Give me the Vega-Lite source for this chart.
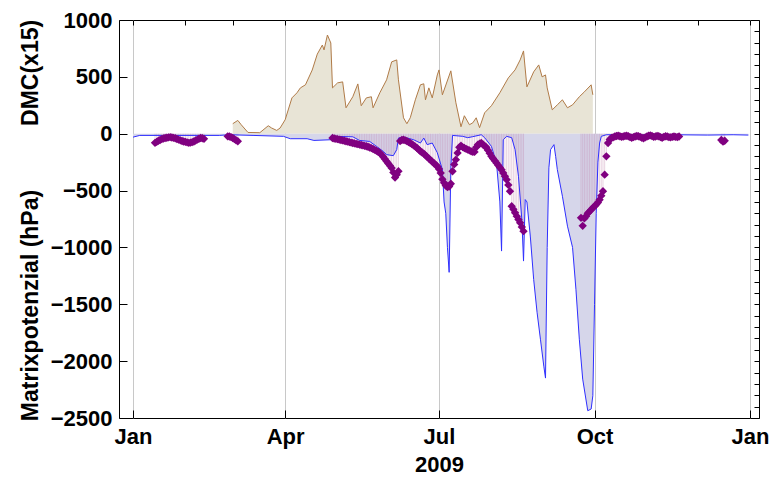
{
  "$schema": "https://vega.github.io/schema/vega-lite/v6.json",
  "width": 640,
  "height": 398,
  "autosize": "none",
  "padding": {"left": 119, "top": 20, "right": 12, "bottom": 66},
  "background": "white",
  "config": {
    "font": "Liberation Sans",
    "view": {"stroke": "#000000", "strokeWidth": 1},
    "axis": {
      "labelFont": "Liberation Sans", "labelFontWeight": "bold", "labelFontSize": 22, "labelColor": "#000000",
      "titleFont": "Liberation Sans", "titleFontWeight": "bold", "titleFontSize": 22, "titleColor": "#000000",
      "tickColor": "#000000", "tickWidth": 1, "domain": false, "ticks": true
    }
  },
  "datasets": {
    "dmc": [
      {"d":"2009-03-01","v":88},{"d":"2009-03-04","v":117},{"d":"2009-03-06","v":79},{"d":"2009-03-10","v":11},
      {"d":"2009-03-17","v":9},{"d":"2009-03-22","v":70},{"d":"2009-03-24","v":50},{"d":"2009-03-27","v":29},
      {"d":"2009-03-29","v":50},{"d":"2009-04-01","v":123},{"d":"2009-04-05","v":315},{"d":"2009-04-08","v":360},
      {"d":"2009-04-10","v":403},{"d":"2009-04-13","v":430},{"d":"2009-04-17","v":560},{"d":"2009-04-20","v":700},
      {"d":"2009-04-23","v":780},{"d":"2009-04-24","v":737},{"d":"2009-04-26","v":868},{"d":"2009-04-28","v":798},
      {"d":"2009-04-29","v":403},{"d":"2009-05-02","v":447},{"d":"2009-05-05","v":456},{"d":"2009-05-07","v":228},
      {"d":"2009-05-11","v":325},{"d":"2009-05-14","v":438},{"d":"2009-05-16","v":246},{"d":"2009-05-19","v":315},
      {"d":"2009-05-22","v":325},{"d":"2009-05-23","v":228},{"d":"2009-05-27","v":360},{"d":"2009-05-31","v":474},
      {"d":"2009-06-03","v":632},{"d":"2009-06-06","v":649},{"d":"2009-06-07","v":474},{"d":"2009-06-10","v":140},
      {"d":"2009-06-12","v":88},{"d":"2009-06-14","v":140},{"d":"2009-06-17","v":298},{"d":"2009-06-20","v":430},
      {"d":"2009-06-22","v":439},{"d":"2009-06-23","v":298},{"d":"2009-06-25","v":403},{"d":"2009-06-27","v":315},
      {"d":"2009-06-30","v":517},{"d":"2009-07-01","v":561},{"d":"2009-07-03","v":342},{"d":"2009-07-08","v":553},
      {"d":"2009-07-11","v":272},{"d":"2009-07-14","v":61},{"d":"2009-07-16","v":158},{"d":"2009-07-19","v":79},
      {"d":"2009-07-21","v":96},{"d":"2009-07-23","v":140},{"d":"2009-07-25","v":53},{"d":"2009-07-28","v":184},
      {"d":"2009-08-01","v":246},{"d":"2009-08-06","v":360},{"d":"2009-08-11","v":491},{"d":"2009-08-15","v":561},
      {"d":"2009-08-18","v":649},{"d":"2009-08-20","v":728},{"d":"2009-08-22","v":412},{"d":"2009-08-26","v":544},
      {"d":"2009-08-29","v":605},{"d":"2009-08-31","v":500},{"d":"2009-09-02","v":517},{"d":"2009-09-03","v":403},
      {"d":"2009-09-06","v":210},{"d":"2009-09-09","v":254},{"d":"2009-09-12","v":298},{"d":"2009-09-15","v":228},
      {"d":"2009-09-18","v":254},{"d":"2009-09-22","v":325},{"d":"2009-09-25","v":368},{"d":"2009-09-29","v":430},
      {"d":"2009-09-30","v":342}
    ],
    "blue": [
      {"d":"2009-01-01","v":-30},{"d":"2009-01-05","v":-15},{"d":"2009-02-21","v":-15},{"d":"2009-02-27","v":-9},
      {"d":"2009-03-13","v":-15},{"d":"2009-03-31","v":-23},{"d":"2009-04-04","v":-44},{"d":"2009-04-14","v":-44},
      {"d":"2009-04-18","v":-59},{"d":"2009-04-28","v":-53},{"d":"2009-04-29","v":-23},{"d":"2009-05-11","v":-27},
      {"d":"2009-05-15","v":-59},{"d":"2009-05-21","v":-68},{"d":"2009-05-25","v":-111},{"d":"2009-05-29","v":-155},
      {"d":"2009-05-31","v":-184},{"d":"2009-06-04","v":-193},{"d":"2009-06-06","v":-140},{"d":"2009-06-07","v":-38},
      {"d":"2009-06-10","v":-29},{"d":"2009-06-16","v":-53},{"d":"2009-06-20","v":-82},{"d":"2009-06-22","v":-38},
      {"d":"2009-06-24","v":-96},{"d":"2009-06-27","v":-82},{"d":"2009-06-30","v":-167},{"d":"2009-07-03","v":-316},
      {"d":"2009-07-04","v":-600},{"d":"2009-07-05","v":-700},{"d":"2009-07-06","v":-1000},{"d":"2009-07-07","v":-1219},
      {"d":"2009-07-08","v":-300},{"d":"2009-07-09","v":-15},{"d":"2009-07-15","v":-23},{"d":"2009-07-18","v":-35},
      {"d":"2009-07-21","v":-26},{"d":"2009-07-26","v":-9},{"d":"2009-07-28","v":-35},{"d":"2009-08-01","v":-111},
      {"d":"2009-08-04","v":-255},{"d":"2009-08-06","v":-600},{"d":"2009-08-07","v":-1032},{"d":"2009-08-08","v":-53},
      {"d":"2009-08-10","v":-23},{"d":"2009-08-13","v":-35},{"d":"2009-08-15","v":-140},{"d":"2009-08-17","v":-374},
      {"d":"2009-08-19","v":-754},{"d":"2009-08-20","v":-1120},{"d":"2009-08-21","v":-579},{"d":"2009-08-22","v":-600},
      {"d":"2009-08-24","v":-900},{"d":"2009-08-26","v":-1281},{"d":"2009-08-28","v":-1570},{"d":"2009-08-30","v":-1807},
      {"d":"2009-09-01","v":-2044},{"d":"2009-09-02","v":-2149},{"d":"2009-09-03","v":-1000},{"d":"2009-09-04","v":-300},
      {"d":"2009-09-05","v":-140},{"d":"2009-09-07","v":-96},{"d":"2009-09-08","v":-199},{"d":"2009-09-09","v":-316},
      {"d":"2009-09-12","v":-550},{"d":"2009-09-15","v":-813},{"d":"2009-09-18","v":-1000},{"d":"2009-09-20","v":-1368},
      {"d":"2009-09-22","v":-1807},{"d":"2009-09-24","v":-2158},{"d":"2009-09-27","v":-2436},{"d":"2009-09-29","v":-2421},
      {"d":"2009-09-30","v":-2304},{"d":"2009-10-01","v":-1500},{"d":"2009-10-02","v":-700},{"d":"2009-10-03","v":-250},
      {"d":"2009-10-04","v":-82},{"d":"2009-10-05","v":-23},{"d":"2009-10-08","v":-9},{"d":"2009-10-28","v":-12},
      {"d":"2009-11-17","v":-9},{"d":"2009-12-07","v":-12},{"d":"2009-12-22","v":-9},{"d":"2009-12-31","v":-12}
    ],
    "pts": [
      {"d":"2009-01-14","v":-80},{"d":"2009-01-15","v":-72},{"d":"2009-01-16","v":-62},{"d":"2009-01-17","v":-55},
      {"d":"2009-01-18","v":-48},{"d":"2009-01-19","v":-42},{"d":"2009-01-20","v":-38},{"d":"2009-01-21","v":-35},
      {"d":"2009-01-22","v":-32},{"d":"2009-01-23","v":-30},{"d":"2009-01-24","v":-33},{"d":"2009-01-25","v":-36},
      {"d":"2009-01-26","v":-40},{"d":"2009-01-27","v":-46},{"d":"2009-01-28","v":-52},{"d":"2009-01-29","v":-58},
      {"d":"2009-01-30","v":-64},{"d":"2009-01-31","v":-68},{"d":"2009-02-01","v":-72},{"d":"2009-02-02","v":-76},
      {"d":"2009-02-03","v":-80},{"d":"2009-02-04","v":-78},{"d":"2009-02-05","v":-74},{"d":"2009-02-06","v":-68},
      {"d":"2009-02-07","v":-60},{"d":"2009-02-08","v":-52},{"d":"2009-02-09","v":-44},{"d":"2009-02-10","v":-38},
      {"d":"2009-02-11","v":-40},{"d":"2009-02-12","v":-45},
      {"d":"2009-02-26","v":-23},{"d":"2009-02-27","v":-25},{"d":"2009-02-28","v":-30},{"d":"2009-03-01","v":-38},
      {"d":"2009-03-02","v":-48},{"d":"2009-03-03","v":-58},{"d":"2009-03-04","v":-66},
      {"d":"2009-04-29","v":-38},{"d":"2009-04-30","v":-42},{"d":"2009-05-01","v":-45},{"d":"2009-05-02","v":-48},
      {"d":"2009-05-03","v":-52},{"d":"2009-05-04","v":-55},{"d":"2009-05-05","v":-59},{"d":"2009-05-06","v":-62},
      {"d":"2009-05-07","v":-66},{"d":"2009-05-08","v":-70},{"d":"2009-05-09","v":-74},{"d":"2009-05-10","v":-78},
      {"d":"2009-05-11","v":-82},{"d":"2009-05-12","v":-85},{"d":"2009-05-13","v":-89},{"d":"2009-05-14","v":-92},
      {"d":"2009-05-15","v":-96},{"d":"2009-05-16","v":-99},{"d":"2009-05-17","v":-103},{"d":"2009-05-18","v":-107},
      {"d":"2009-05-19","v":-110},{"d":"2009-05-20","v":-115},{"d":"2009-05-21","v":-121},{"d":"2009-05-22","v":-127},
      {"d":"2009-05-23","v":-134},{"d":"2009-05-24","v":-142},{"d":"2009-05-25","v":-150},{"d":"2009-05-26","v":-159},
      {"d":"2009-05-27","v":-169},{"d":"2009-05-28","v":-185},{"d":"2009-05-29","v":-203},{"d":"2009-05-30","v":-222},
      {"d":"2009-05-31","v":-243},{"d":"2009-06-01","v":-262},{"d":"2009-06-02","v":-281},{"d":"2009-06-03","v":-301},
      {"d":"2009-06-04","v":-340},{"d":"2009-06-05","v":-385},{"d":"2009-06-06","v":-360},{"d":"2009-06-07","v":-330},
      {"d":"2009-06-08","v":-65},{"d":"2009-06-09","v":-55},{"d":"2009-06-10","v":-53},{"d":"2009-06-11","v":-58},
      {"d":"2009-06-12","v":-65},{"d":"2009-06-13","v":-74},{"d":"2009-06-14","v":-82},{"d":"2009-06-15","v":-92},
      {"d":"2009-06-16","v":-103},{"d":"2009-06-17","v":-114},{"d":"2009-06-18","v":-126},{"d":"2009-06-19","v":-140},
      {"d":"2009-06-20","v":-154},{"d":"2009-06-21","v":-165},{"d":"2009-06-22","v":-175},{"d":"2009-06-23","v":-190},
      {"d":"2009-06-24","v":-204},{"d":"2009-06-25","v":-218},{"d":"2009-06-26","v":-232},{"d":"2009-06-27","v":-246},
      {"d":"2009-06-28","v":-260},{"d":"2009-06-29","v":-273},{"d":"2009-06-30","v":-287},{"d":"2009-07-01","v":-310},
      {"d":"2009-07-02","v":-345},{"d":"2009-07-03","v":-400},{"d":"2009-07-04","v":-432},{"d":"2009-07-05","v":-455},
      {"d":"2009-07-06","v":-470},{"d":"2009-07-07","v":-465},{"d":"2009-07-08","v":-440},{"d":"2009-07-09","v":-330},
      {"d":"2009-07-10","v":-270},{"d":"2009-07-11","v":-228},{"d":"2009-07-12","v":-169},{"d":"2009-07-13","v":-120},
      {"d":"2009-07-14","v":-105},{"d":"2009-07-15","v":-118},{"d":"2009-07-16","v":-126},{"d":"2009-07-17","v":-133},
      {"d":"2009-07-18","v":-140},{"d":"2009-07-19","v":-147},{"d":"2009-07-20","v":-155},{"d":"2009-07-21","v":-160},
      {"d":"2009-07-22","v":-160},{"d":"2009-07-23","v":-120},{"d":"2009-07-24","v":-96},{"d":"2009-07-25","v":-88},
      {"d":"2009-07-26","v":-82},{"d":"2009-07-27","v":-95},{"d":"2009-07-28","v":-108},{"d":"2009-07-29","v":-120},
      {"d":"2009-07-30","v":-145},{"d":"2009-07-31","v":-172},{"d":"2009-08-01","v":-199},{"d":"2009-08-02","v":-218},
      {"d":"2009-08-03","v":-237},{"d":"2009-08-04","v":-257},{"d":"2009-08-05","v":-277},{"d":"2009-08-06","v":-297},
      {"d":"2009-08-07","v":-316},{"d":"2009-08-08","v":-345},{"d":"2009-08-09","v":-375},{"d":"2009-08-10","v":-404},
      {"d":"2009-08-11","v":-450},{"d":"2009-08-12","v":-506},{"d":"2009-08-13","v":-638},{"d":"2009-08-14","v":-665},
      {"d":"2009-08-15","v":-695},{"d":"2009-08-16","v":-725},{"d":"2009-08-17","v":-755},{"d":"2009-08-18","v":-784},
      {"d":"2009-08-19","v":-820},{"d":"2009-08-20","v":-857},
      {"d":"2009-09-23","v":-740},{"d":"2009-09-24","v":-810},{"d":"2009-09-25","v":-745},{"d":"2009-09-26","v":-725},
      {"d":"2009-09-27","v":-700},{"d":"2009-09-28","v":-685},{"d":"2009-09-29","v":-668},{"d":"2009-09-30","v":-652},
      {"d":"2009-10-01","v":-638},{"d":"2009-10-02","v":-622},{"d":"2009-10-03","v":-605},{"d":"2009-10-04","v":-580},
      {"d":"2009-10-05","v":-545},{"d":"2009-10-06","v":-506},{"d":"2009-10-07","v":-360},{"d":"2009-10-08","v":-199},
      {"d":"2009-10-09","v":-82},{"d":"2009-10-10","v":-50},{"d":"2009-10-11","v":-38},{"d":"2009-10-12","v":-32},
      {"d":"2009-10-13","v":-25},{"d":"2009-10-14","v":-20},{"d":"2009-10-15","v":-18},{"d":"2009-10-16","v":-22},
      {"d":"2009-10-17","v":-28},{"d":"2009-10-18","v":-25},{"d":"2009-10-19","v":-20},{"d":"2009-10-20","v":-18},
      {"d":"2009-10-21","v":-22},{"d":"2009-10-22","v":-30},{"d":"2009-10-23","v":-35},{"d":"2009-10-24","v":-30},
      {"d":"2009-10-25","v":-25},{"d":"2009-10-26","v":-20},{"d":"2009-10-27","v":-22},{"d":"2009-10-28","v":-28},
      {"d":"2009-10-29","v":-35},{"d":"2009-10-30","v":-40},{"d":"2009-10-31","v":-32},{"d":"2009-11-01","v":-25},
      {"d":"2009-11-02","v":-18},{"d":"2009-11-03","v":-15},{"d":"2009-11-04","v":-20},{"d":"2009-11-05","v":-28},
      {"d":"2009-11-06","v":-25},{"d":"2009-11-07","v":-20},{"d":"2009-11-08","v":-22},{"d":"2009-11-09","v":-30},
      {"d":"2009-11-10","v":-35},{"d":"2009-11-11","v":-28},{"d":"2009-11-12","v":-22},{"d":"2009-11-13","v":-25},
      {"d":"2009-11-14","v":-30},{"d":"2009-11-15","v":-32},{"d":"2009-11-16","v":-28},{"d":"2009-11-17","v":-25},
      {"d":"2009-11-18","v":-28},{"d":"2009-11-19","v":-30},{"d":"2009-11-20","v":-25},
      {"d":"2009-12-15","v":-55},{"d":"2009-12-16","v":-70},{"d":"2009-12-17","v":-62}
    ]
  },
  "resolve": {"axis": {"x": "independent", "y": "independent"}},
  "layer": [
    {
      "data": {"name": "dmc"},
      "mark": {"type": "area", "color": "#e8e4d6", "opacity": 1},
      "encoding": {
        "x": {
          "field": "d", "type": "temporal",
          "scale": {"type": "utc", "domain": [{"year": 2008, "month": 12, "date": 23, "hours": 17, "utc": true}, {"year": 2010, "month": 1, "date": 6, "hours": 7, "utc": true}]},
          "axis": {
            "orient": "bottom", "title": "2009", "titlePadding": 7,
            "values": [
              {"year": 2009, "month": 1, "date": 1, "utc": true}, {"year": 2009, "month": 4, "date": 1, "utc": true},
              {"year": 2009, "month": 7, "date": 1, "utc": true}, {"year": 2009, "month": 10, "date": 1, "utc": true},
              {"year": 2010, "month": 1, "date": 1, "utc": true}
            ],
            "format": "%b",
            "labelFlush": false, "labelOverlap": false,
            "offset": -8, "tickSize": 8,
            "labelPadding": 8,
            "grid": true, "gridColor": "#c8c8c8", "gridWidth": 1
          }
        },
        "y": {
          "field": "v", "type": "quantitative",
          "scale": {"domain": [-2500, 1000], "nice": false, "zero": false},
          "axis": {
            "orient": "left",
            "title": "Matrixpotenzial (hPa)\u00a0\u00a0\u00a0\u00a0\u00a0\u00a0\u00a0\u00a0\u00a0\u00a0DMC(x15)",
            "titlePadding": 8,
            "titleY": 200,
            "titleFontSize": 23,
            "values": [-2500,-2000,-1500,-1000,-500,0,500,1000],
            "format": "d",
            "labelFlush": false, "labelOverlap": false,
            "offset": -8, "tickSize": 8,
            "labelPadding": 7,
            "grid": false
          }
        },
        "y2": {"datum": 0}
      }
    },
    {
      "data": {"name": "blue"},
      "mark": {"type": "area", "color": "#d6d6ea", "opacity": 1},
      "encoding": {
        "x": {
          "field": "d", "type": "temporal",
          "axis": {
            "orient": "top", "title": null, "labels": false, "grid": false,
            "values": [
              {"year": 2009, "month": 1, "date": 1, "utc": true}, {"year": 2009, "month": 2, "date": 1, "utc": true},
              {"year": 2009, "month": 3, "date": 1, "utc": true}, {"year": 2009, "month": 4, "date": 1, "utc": true},
              {"year": 2009, "month": 5, "date": 1, "utc": true}, {"year": 2009, "month": 6, "date": 1, "utc": true},
              {"year": 2009, "month": 7, "date": 1, "utc": true}, {"year": 2009, "month": 8, "date": 1, "utc": true},
              {"year": 2009, "month": 9, "date": 1, "utc": true}, {"year": 2009, "month": 10, "date": 1, "utc": true},
              {"year": 2009, "month": 11, "date": 1, "utc": true}, {"year": 2009, "month": 12, "date": 1, "utc": true},
              {"year": 2010, "month": 1, "date": 1, "utc": true}
            ],
            "offset": -5, "tickSize": 5
          }
        },
        "y": {
          "field": "v", "type": "quantitative",
          "axis": {
            "orient": "right", "title": null, "labels": false, "grid": false,
            "values": [-2500,-2400,-2300,-2200,-2100,-2000,-1900,-1800,-1700,-1600,-1500,-1400,-1300,-1200,-1100,-1000,-900,-800,-700,-600,-500,-400,-300,-200,-100,0,100,200,300,400,500,600,700,800,900,1000],
            "offset": -5, "tickSize": 5
          }
        },
        "y2": {"datum": 0}
      }
    },
    {
      "data": {"name": "pts"},
      "mark": {"type": "rule", "color": "#c080a8", "opacity": 0.35, "strokeWidth": 1},
      "encoding": {
        "x": {"field": "d", "type": "temporal", "axis": null},
        "y": {"field": "v", "type": "quantitative", "axis": null},
        "y2": {"datum": 0}
      }
    },
    {
      "data": {"name": "dmc"},
      "mark": {"type": "line", "color": "#b07b48", "strokeWidth": 1},
      "encoding": {
        "x": {"field": "d", "type": "temporal", "axis": null},
        "y": {"field": "v", "type": "quantitative", "axis": null}
      }
    },
    {
      "data": {"name": "blue"},
      "mark": {"type": "line", "color": "#2f2fff", "strokeWidth": 1},
      "encoding": {
        "x": {"field": "d", "type": "temporal", "axis": null},
        "y": {"field": "v", "type": "quantitative", "axis": null}
      }
    },
    {
      "data": {"name": "pts"},
      "mark": {"type": "point", "shape": "diamond", "filled": true, "color": "#800080", "opacity": 1, "size": 70},
      "encoding": {
        "x": {"field": "d", "type": "temporal", "axis": null},
        "y": {"field": "v", "type": "quantitative", "axis": null}
      }
    }
  ]
}
